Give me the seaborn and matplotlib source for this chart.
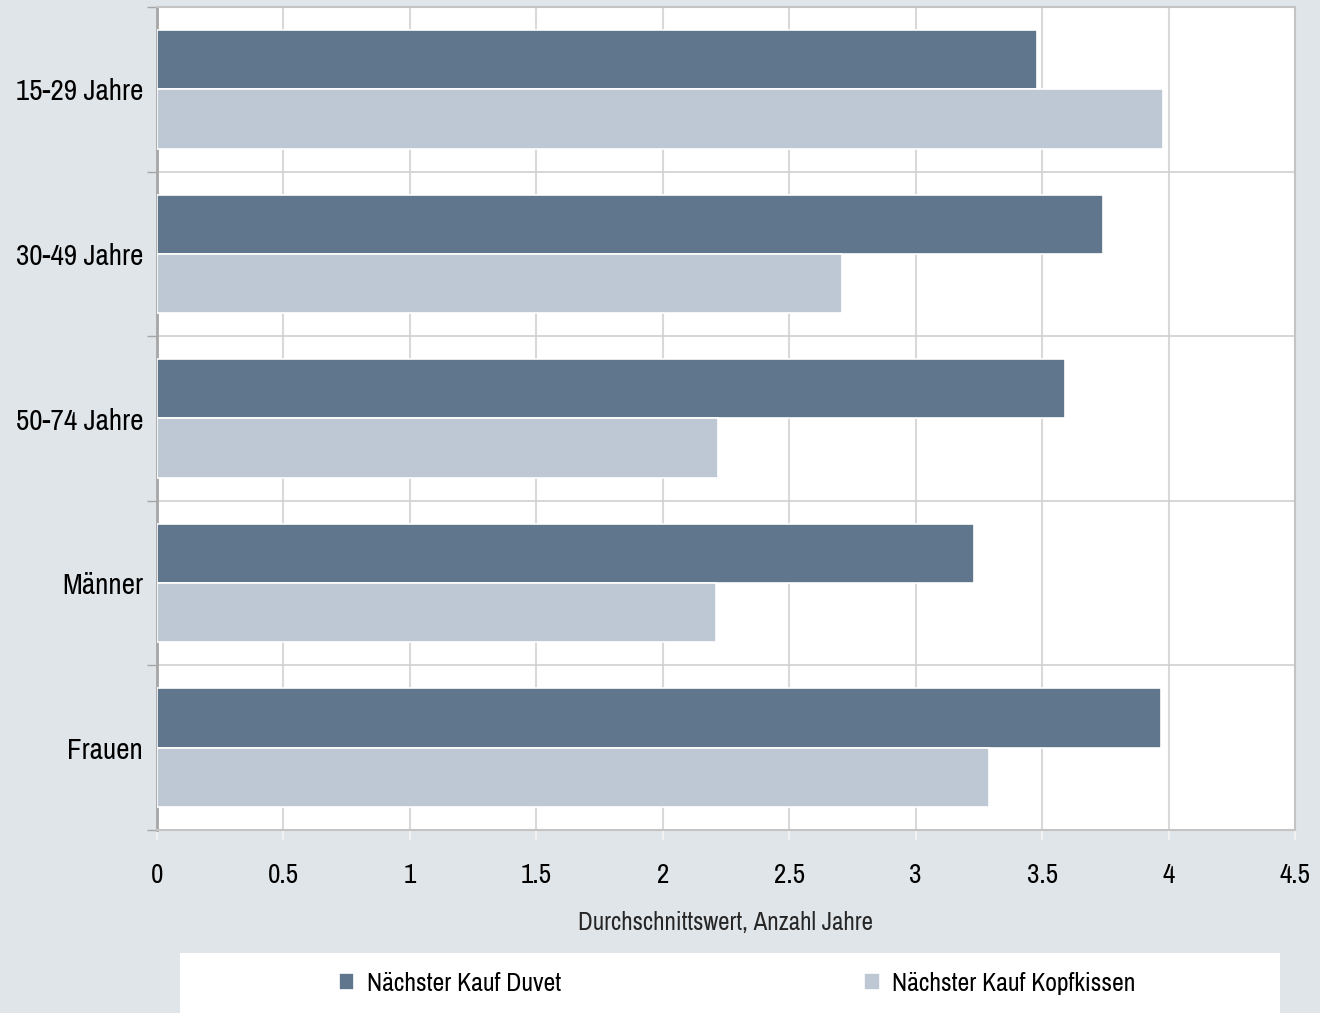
import numpy as np
import pandas as pd
import seaborn as sns
import matplotlib.pyplot as plt
from matplotlib import font_manager
from matplotlib.patches import Rectangle

# data
groups = ["15-29 Jahre", "30-49 Jahre", "50-74 Jahre", "Männer", "Frauen"]
duvet = [3.48, 3.74, 3.59, 3.23, 3.97]
kissen = [3.98, 2.71, 2.22, 2.21, 3.29]
series = ["Nächster Kauf Duvet", "Nächster Kauf Kopfkissen"]
colors = ["#5f768d", "#bec8d4"]
xticks = [0, 0.5, 1, 1.5, 2, 2.5, 3, 3.5, 4, 4.5]

df = pd.DataFrame({
    "Gruppe": groups * 2,
    "Wert": duvet + kissen,
    "Serie": [series[0]] * len(groups) + [series[1]] * len(groups),
})

# look for a narrow face, the reference uses an Arial Narrow look
names = sorted({f.name for f in font_manager.fontManager.ttflist})
narrow = [n for n in names if "Narrow" in n] + [n for n in names if "Condensed" in n]
stretch = "normal"
if narrow:
    fam = narrow[0]
else:
    fam = "DejaVu Sans"
    stretch = "condensed"

sns.set_style("white")
plt.rcParams['font.family'] = [fam, 'DejaVu Sans']
plt.rcParams['font.stretch'] = stretch
plt.rcParams['text.color'] = "black"
plt.rcParams['xtick.color'] = "black"
plt.rcParams['ytick.color'] = "black"
bg = "#e0e5e9"

fig = plt.figure(figsize=(13.2, 10.13), dpi=100, facecolor=bg)
ax = fig.add_axes([157/1320, 1-830/1013, (1295-157)/1320, (830-7)/1013])
ax.set_facecolor("white")

sns.barplot(data=df, y="Gruppe", x="Wert", hue="Serie", order=groups,
            hue_order=series, palette=colors, orient="h", width=0.72,
            edgecolor="white", linewidth=1.2, saturation=1, ax=ax, zorder=3)

handles, labels = ax.get_legend_handles_labels()
ax.get_legend().remove()

ax.set_xlim(0, 4.5)
ax.set_ylim(len(groups) - 0.5, -0.5)
ax.set_xticks(xticks)
ax.set_xticklabels([f"{t:g}" for t in xticks], fontsize=19.5)
ax.set_yticks(range(len(groups)))
ax.set_yticklabels(groups, fontsize=21)
ax.set_yticks(np.arange(-0.5, len(groups), 1), minor=True)
ax.tick_params(axis="y", which="both", left=True)
ax.tick_params(axis="y", which="major", length=0, pad=10)
ax.tick_params(axis="y", which="minor", length=7, color="#a6a6a6", width=1)
ax.tick_params(axis="x", which="major", bottom=True, length=7, color="#f2f2f2",
               width=1.5, pad=17, direction="out")
ax.set_ylabel("")
ax.set_xlabel("Durchschnittswert, Anzahl Jahre", fontsize=18, labelpad=16)

ax.grid(axis="x", which="major", color="#d9d9d9", linewidth=1.5, zorder=0)
ax.grid(axis="y", which="minor", color="#d0d0d0", linewidth=1.2, zorder=0)
ax.set_axisbelow(True)

for side in ["top", "right", "bottom"]:
    ax.spines[side].set_color("#c4c4c4")
    ax.spines[side].set_linewidth(1.5)
ax.spines["left"].set_color("#a6a6a6")
ax.spines["left"].set_linewidth(2)

# legend box
fig.patches.append(Rectangle((180/1320, 0), 1100/1320, 60/1013,
                             transform=fig.transFigure, facecolor="white",
                             edgecolor="none", zorder=0))
for i, (h, l) in enumerate(zip(handles, labels)):
    cx = (450 if i == 0 else 1000) / 1320
    fig.legend([h], [l], loc="center", bbox_to_anchor=(cx, 30/1013),
               frameon=False, fontsize=18.5, handlelength=0.6,
               handleheight=0.6, handletextpad=0.5)

fig.savefig("out.png", dpi=100, facecolor=bg)
